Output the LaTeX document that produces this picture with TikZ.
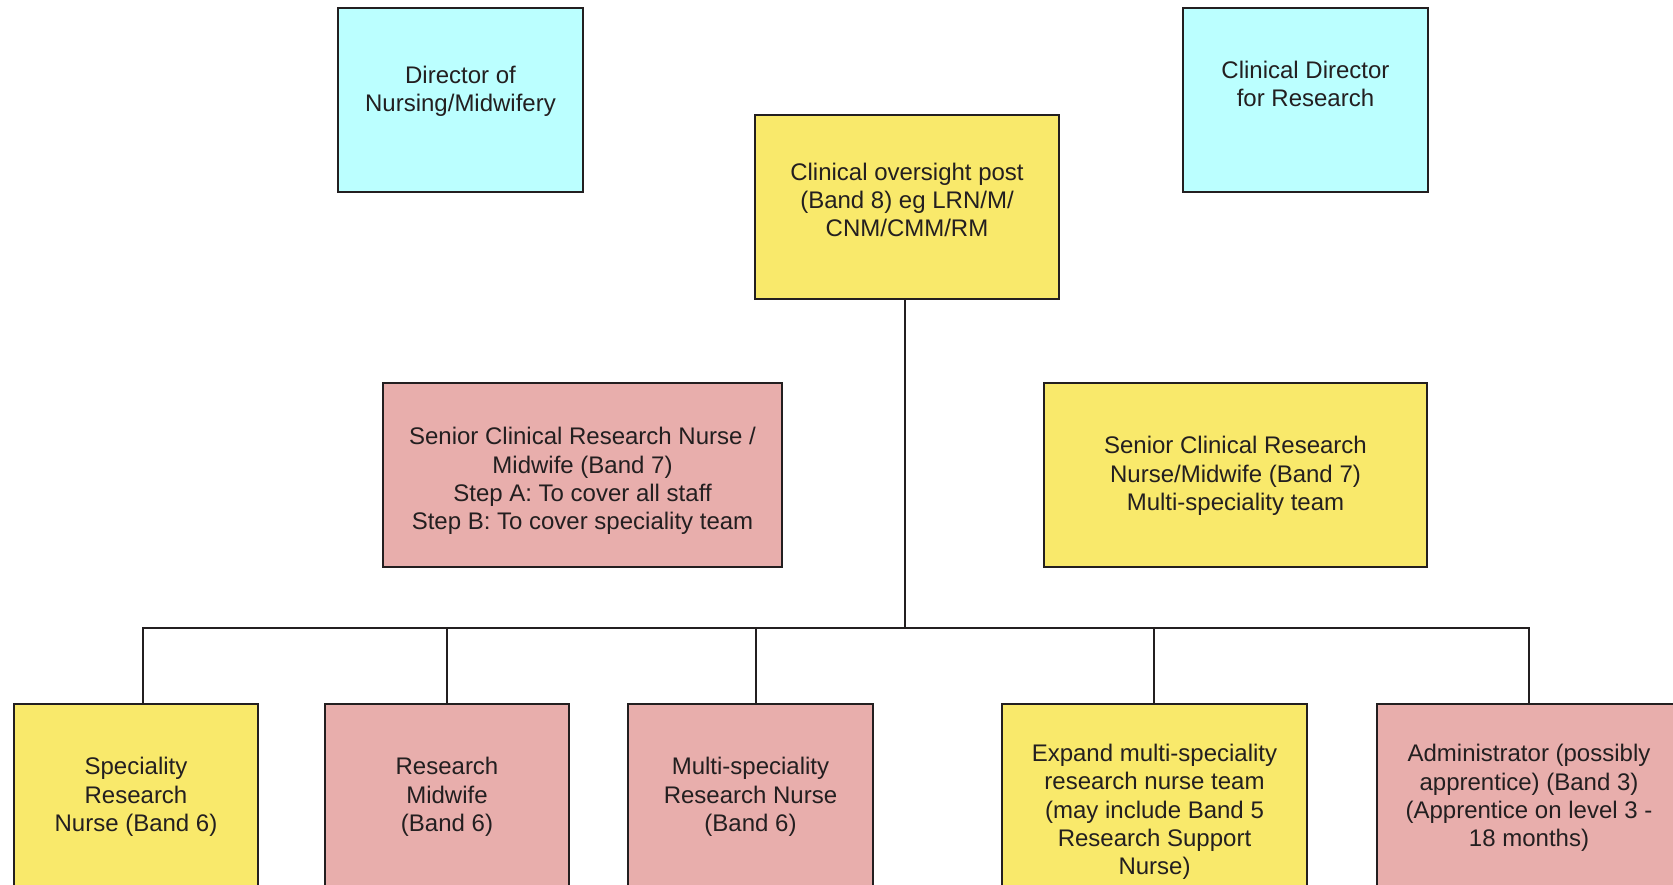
\documentclass[tikz,border=0pt]{standalone}
\usepackage{fontspec}
\setmainfont{Liberation Sans}
\definecolor{ylw}{HTML}{F9E96B}
\definecolor{pnk}{HTML}{E8AEAC}
\definecolor{cyn}{HTML}{BBFFFF}
\definecolor{ink}{HTML}{231F20}
\tikzset{
  box/.style={draw=ink, line width=2.5pt, rectangle, inner sep=0pt},
  toprow/.style={box, minimum width=245pt, minimum height=184pt},
  botrow/.style={box, minimum height=240pt},
  txt/.style={align=center, text=ink, font=\fontsize{24}{28.3}\selectfont, inner sep=0pt},
  conn/.style={draw=ink, line width=2.3pt},
}
\begin{document}
\begin{tikzpicture}[x=1pt,y=-1pt]
\clip (0,0) rectangle (1673,884);
\fill[white] (0,0) rectangle (1673,884);

% top row
\node[toprow, fill=cyn] (dir) at (460.5,100) {};
\node[txt] (dir-t) at (460.5,91.5) {Director of\\Nursing/Midwifery};

\node[toprow, fill=cyn] (cdr) at (1305.5,100) {};
\node[txt] (cdr-t) at (1305.5,84) {Clinical Director\\for Research};

\node[box, fill=ylw, minimum width=304pt, minimum height=184pt] (cop) at (907,207) {};
\node[txt] (cop-t) at (907,200) {Clinical oversight post\\(Band 8) eg LRN/M/\\CNM/CMM/RM};

% middle row
\node[box, fill=pnk, minimum width=399pt, minimum height=184pt] (srp) at (582.5,475) {};
\node[txt] (srp-t) at (582.5,481) {Senior Clinical Research Nurse /\\Midwife (Band 7)\\Step A: To cover all staff\\Step B: To cover speciality team};

\node[box, fill=ylw, minimum width=383pt, minimum height=184pt] (sry) at (1235.5,475) {};
\node[txt] (sry-t) at (1235.5,476) {Senior Clinical Research\\Nurse/Midwife (Band 7)\\Multi-speciality team};

% bottom row
\node[botrow, fill=ylw, minimum width=244pt] (spec) at (136,824) {};
\node[txt] (spec-t) at (136,797) {Speciality\\Research\\Nurse (Band 6)};

\node[botrow, fill=pnk, minimum width=244pt] (mid) at (447,824) {};
\node[txt] (mid-t) at (447,797) {Research\\Midwife\\(Band 6)};

\node[botrow, fill=pnk, minimum width=245pt] (mul) at (750.5,824) {};
\node[txt] (mul-t) at (750.5,797) {Multi-speciality\\Research Nurse\\(Band 6)};

\node[botrow, fill=ylw, minimum width=305pt] (exp) at (1154.5,824) {};
\node[txt] (exp-t) at (1154.5,812) {Expand multi-speciality\\research nurse team\\(may include Band 5\\Research Support\\Nurse)};

\node[botrow, fill=pnk, minimum width=304pt] (adm) at (1529,824) {};
\node[txt] (adm-t) at (1529,798) {Administrator (possibly\\apprentice) (Band 3)\\(Apprentice on level 3 -\\18 months)};

% connectors
\coordinate (j0) at (905,628);
\coordinate (d1) at (143,628);
\coordinate (d2) at (447,628);
\coordinate (d3) at (756,628);
\coordinate (d4) at (1154,628);
\coordinate (d5) at (1529,628);

\draw[conn] (cop.south -| j0) -- (j0);
\draw[conn] (d1 |- spec.north) -- (d1) -- (d5) -- (d5 |- adm.north);
\draw[conn] (d2) -- (d2 |- mid.north);
\draw[conn] (d3) -- (d3 |- mul.north);
\draw[conn] (d4) -- (d4 |- exp.north);
\end{tikzpicture}
\end{document}
